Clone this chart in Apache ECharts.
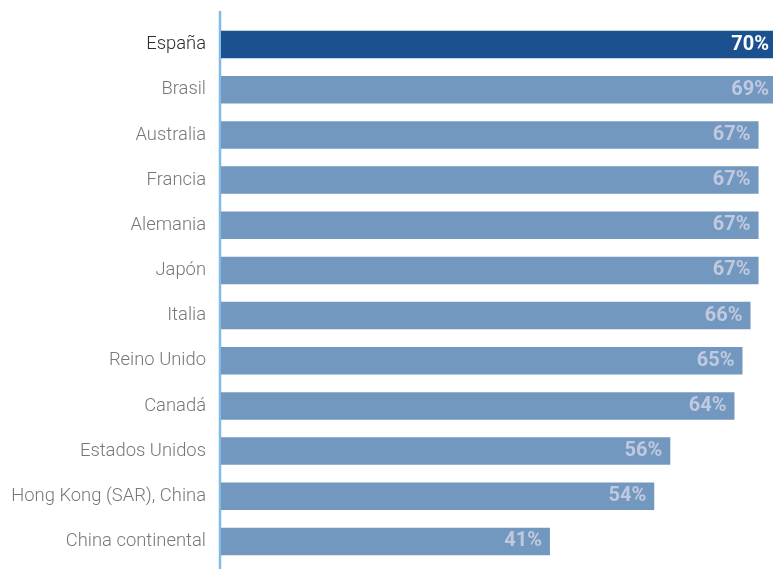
<!DOCTYPE html>
<html>
<head>
<meta charset="utf-8">
<script src="https://cdn.jsdelivr.net/npm/echarts@6/dist/echarts.min.js"></script>
<style>
html,body{margin:0;padding:0;background:#fff;}
#chart{width:773px;height:569px;}
</style>
</head>
<body>
<div id="chart"></div>
<script>
const categories = ["España","Brasil","Australia","Francia","Alemania","Japón","Italia","Reino Unido","Canadá","Estados Unidos","Hong Kong (SAR), China","China continental"];
const values = [70,69,67,67,67,67,66,65,64,56,54,41];
const highlight = "España";
const axisMax = 68.8;

const chart = echarts.init(document.getElementById('chart'));
const data = values.map((v, i) => {
  const hi = categories[i] === highlight;
  return {
    value: v,
    itemStyle: { color: hi ? '#1b518e' : '#7398c0' },
    label: { color: hi ? '#ffffff' : '#c0c9df', distance: v > axisMax ? 4 : 8 }
  };
});
chart.setOption({
  animation: false,
  grid: { left: 221, right: 0, top: 22, bottom: 5, containLabel: false },
  xAxis: { type: 'value', min: 0, max: axisMax, show: false },
  yAxis: {
    type: 'category', inverse: true, data: categories,
    axisLine: { show: false }, axisTick: { show: false },
    axisLabel: {
      margin: 15, fontFamily: 'Roboto', fontSize: 18.4, fontWeight: 300,
      color: function (v) { return v === highlight ? '#2b2b2b' : '#777777'; }
    }
  },
  graphic: [{
    type: 'line', shape: { x1: 220, y1: 11, x2: 220, y2: 569 },
    style: { stroke: '#80bce6', lineWidth: 2.5 }
  }],
  series: [{
    type: 'bar', data: data, barWidth: '61%', clip: true,
    label: {
      show: true, position: 'insideRight', formatter: '{c}%',
      fontFamily: 'Roboto', fontWeight: 'bold', fontSize: 20
    }
  }]
});
</script>
</body>
</html>
